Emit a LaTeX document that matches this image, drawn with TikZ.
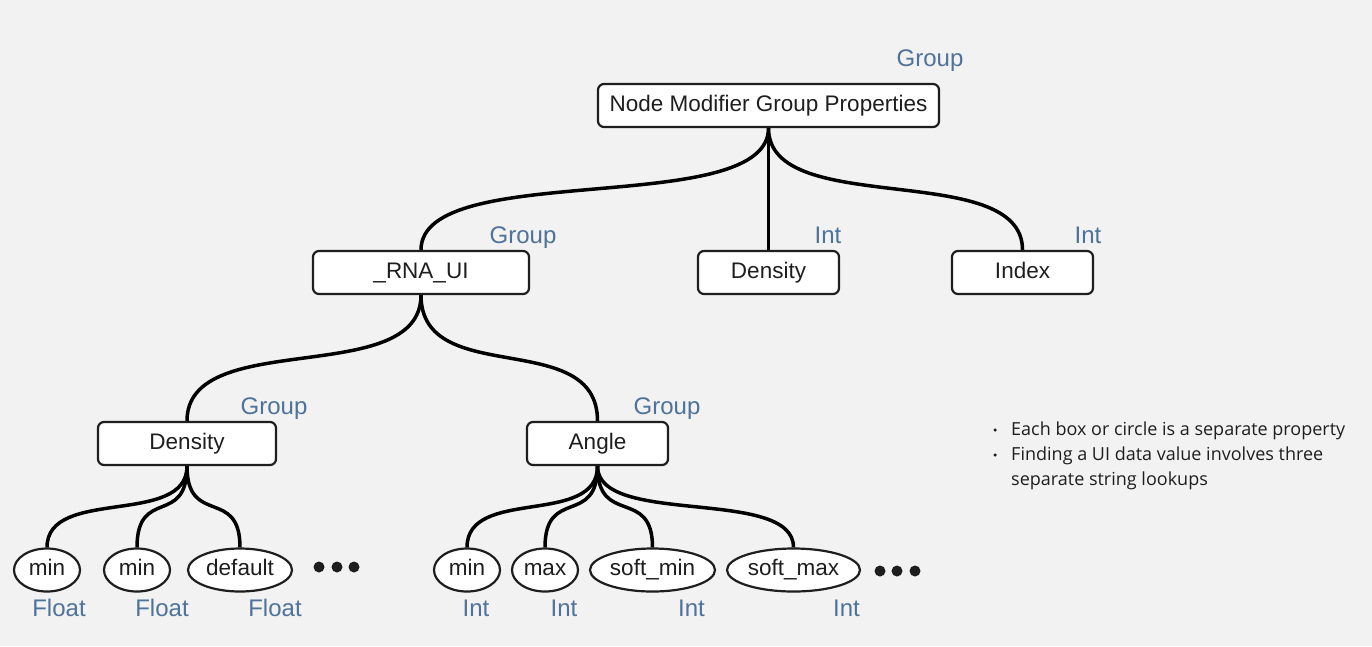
\documentclass[tikz,border=0pt]{standalone}
\usepackage{fontspec}
\setmainfont{Liberation Sans}
\newfontfamily\notefont{Open Sans}
\usetikzlibrary{shapes.geometric,calc}
\definecolor{bg}{HTML}{F2F2F2}
\definecolor{lbl}{HTML}{4E7299}
\definecolor{ink}{HTML}{1E1E1E}
\tikzset{
  box/.style={draw=ink, line width=2.2pt, fill=white, rounded corners=6pt, minimum height=43pt, inner sep=0pt, text height=16.5pt, text depth=5.5pt, font=\fontsize{22.5}{26}\selectfont, text=ink},
  oval/.style={ellipse, draw=ink, line width=2.2pt, fill=white, minimum height=43pt, inner sep=0pt, text height=16pt, text depth=6pt, font=\fontsize{22.5}{26}\selectfont, text=ink},
  typ/.style={anchor=base, text=lbl, font=\fontsize{24}{28}\selectfont},
  conn/.style={line width=3.5pt, draw=black},
  dotmark/.style={circle, fill=ink, minimum size=11pt, inner sep=0pt},
  note/.style={anchor=base west, inner sep=0pt, font=\notefont\fontsize{18}{22}\selectfont, text=ink},
  bul/.style={circle, fill=ink, minimum size=3.5pt, inner sep=0pt}
}
\newcommand\linkto[2]{\draw[conn] (#1.south) .. controls ($(#1.south)!0.75!(#1.south|-#2.north)$) and ($(#2.north)!0.75!(#2.north|-#1.south)$) .. (#2.north);}
\begin{document}
\begin{tikzpicture}[x=1pt,y=-1pt]
\useasboundingbox (0,0) rectangle (1372,646);
\fill[bg] (0,0) rectangle (1372,646);

% boxes
\node[box, minimum width=341pt] (top) at (768.5,105.5) {Node Modifier Group Properties};
\node[box, minimum width=216pt] (rna) at (421,272.5) {\_RNA\_UI};
\node[box, minimum width=141pt] (dens) at (768.5,272.5) {Density};
\node[box, minimum width=141pt] (idx) at (1022.5,272.5) {Index};
\node[box, minimum width=178pt] (dens2) at (187,443.5) {Density};
\node[box, minimum width=141pt] (ang) at (597.5,443.5) {Angle};

% ellipses
\node[oval, minimum width=66pt] (mina) at (47,570) {min};
\node[oval, minimum width=66pt] (minb) at (137,570) {min};
\node[oval, minimum width=104pt] (dflt) at (240,570) {default};
\node[oval, minimum width=66pt] (minc) at (467,570) {min};
\node[oval, minimum width=66pt] (maxc) at (545,570) {max};
\node[oval, minimum width=125pt] (smin) at (652.5,570) {soft\_min};
\node[oval, minimum width=133pt] (smax) at (793.5,570) {soft\_max};

% connectors
\linkto{top}{rna}
\draw[conn] (top.south) -- (dens.north);
\linkto{top}{idx}
\linkto{rna}{dens2}
\linkto{rna}{ang}
\linkto{dens2}{mina}
\linkto{dens2}{minb}
\linkto{dens2}{dflt}
\linkto{ang}{minc}
\linkto{ang}{maxc}
\linkto{ang}{smin}
\linkto{ang}{smax}

% ellipsis dots
\node[dotmark] (d1) at (319,567) {};
\node[dotmark] (d2) at (337,567) {};
\node[dotmark] (d3) at (354,567) {};
\node[dotmark] (d4) at (880,571) {};
\node[dotmark] (d5) at (897,571) {};
\node[dotmark] (d6) at (915,571) {};

% type labels
\node[typ] (t1) at (930,66) {Group};
\node[typ] (t2) at (523,243) {Group};
\node[typ] (t3) at (828,243) {Int};
\node[typ] (t4) at (1088,243) {Int};
\node[typ] (t5) at (274,414) {Group};
\node[typ] (t6) at (667,414) {Group};
\node[typ] (t7) at (59,616.5) {Float};
\node[typ] (t8) at (162,616.5) {Float};
\node[typ] (t9) at (275,616.5) {Float};
\node[typ] (t10) at (476,616.5) {Int};
\node[typ] (t11) at (564,616.5) {Int};
\node[typ] (t12) at (691.5,616.5) {Int};
\node[typ] (t13) at (846.5,616.5) {Int};

% notes
\node[bul] (b1) at (995,430) {};
\node[bul] (b2) at (995,455) {};
\node[note] (n1) at (1011,435.5) {Each box or circle is a separate property};
\node[note] (n2) at (1011,460.5) {Finding a UI data value involves three};
\node[note] (n3) at (1011,485.5) {separate string lookups};
\end{tikzpicture}
\end{document}
